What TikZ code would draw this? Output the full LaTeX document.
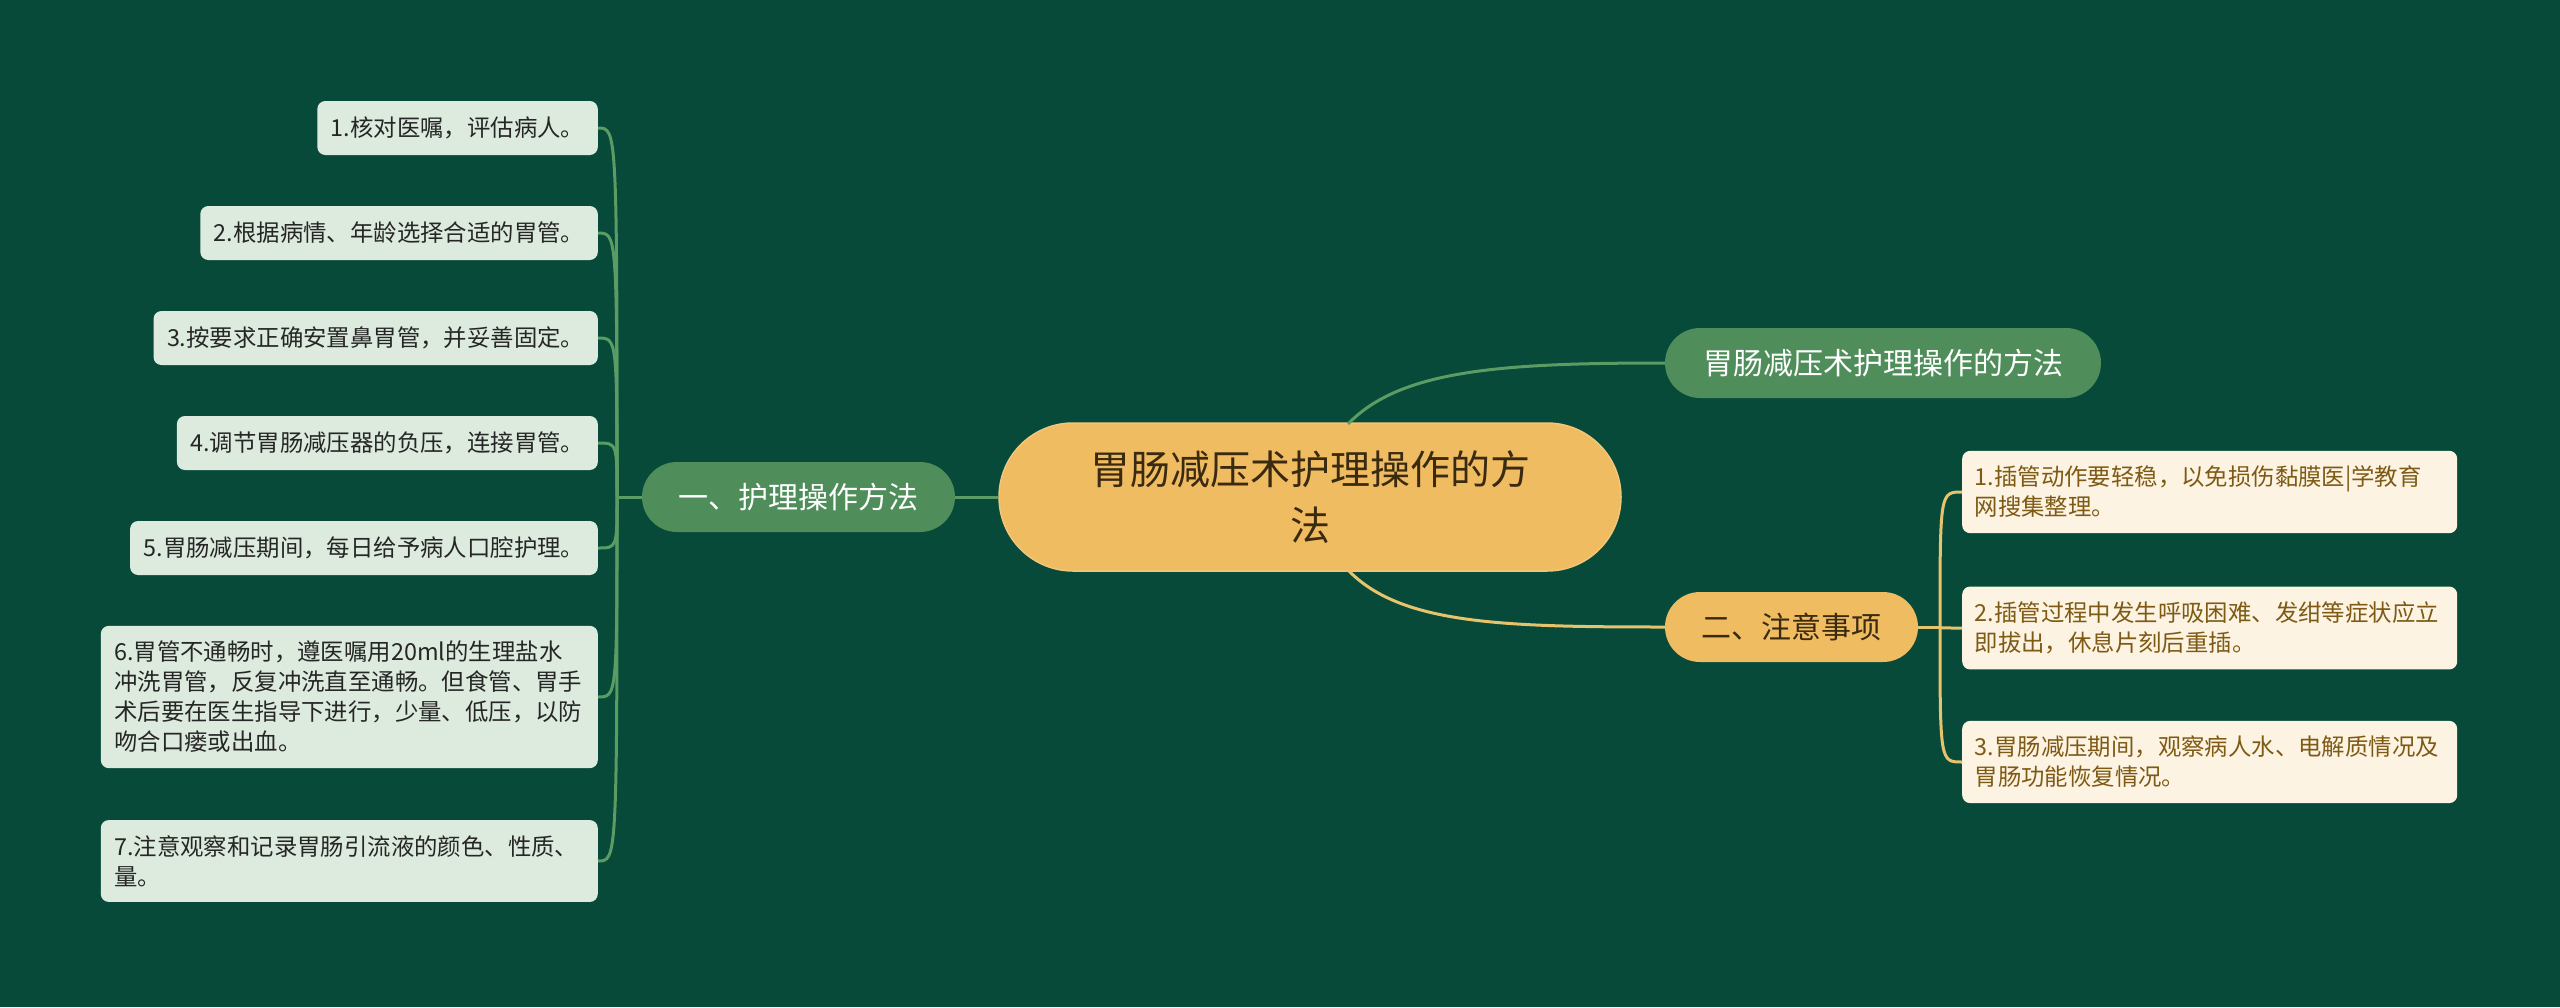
\documentclass[tikz,border=0pt]{standalone}
\usepackage{fontspec}
\setmainfont{Noto Sans CJK SC}
\definecolor{bgc}{HTML}{074A39}
\definecolor{cyel}{HTML}{F0BC62}
\definecolor{bgrn}{HTML}{4F8E5B}
\definecolor{leafg}{HTML}{DDEBDE}
\definecolor{leafc}{HTML}{FDF3E2}
\definecolor{lineg}{HTML}{5B9C65}
\definecolor{lineo}{HTML}{E6C36C}
\definecolor{brtxt}{HTML}{7E5A14}
\definecolor{dtxt}{HTML}{3A2A10}
\begin{document}
\begin{tikzpicture}[x=1pt,y=-1pt,
  leafL/.style={fill=leafg, text=black!85, rounded corners=8pt, font=\fontsize{23.4}{30}\selectfont, inner xsep=13.5pt, inner ysep=15.3pt, minimum height=54pt, anchor=east},
  leafLw/.style={leafL, text width=470pt, align=left},
  leafR/.style={fill=leafc, text=brtxt, rounded corners=8pt, font=\fontsize{23.4}{30}\selectfont, inner xsep=12.5pt, inner ysep=15.3pt, minimum height=54pt, text width=470pt, align=left, anchor=west},
  branch/.style={rounded corners=35pt, minimum height=70pt, inner sep=0pt, font=\fontsize{30}{36}\selectfont},
  gline/.style={draw=lineg, line width=3pt},
  oline/.style={draw=lineo, line width=3pt}]
\fill[bgc] (0,0) rectangle (2560,1007);
\useasboundingbox (0,0) rectangle (2560,1007);

% coordinates
\coordinate (ctr) at (1310,497);
\coordinate (lt) at (617,497);
\coordinate (rtk) at (1940,627);

% central node
\node[fill=cyel, draw=cyel!85!white, line width=1.5pt, rounded corners=74pt, minimum width=622pt, minimum height=148pt, inner sep=0pt, text width=460pt, align=center, text=dtxt, font=\fontsize{40}{56}\selectfont] (c) at (ctr) {胃肠减压术护理操作的方\\法};

% branch nodes
\node[branch, fill=bgrn, text=white, minimum width=313pt] (lb) at (798.5,497) {一、护理操作方法};
\node[branch, fill=bgrn, text=white, minimum width=436pt] (rt) at (1883,363) {胃肠减压术护理操作的方法};
\node[branch, fill=cyel, text=dtxt, minimum width=253pt] (rb) at (1791.5,627) {二、注意事项};

% branch-level connectors (drawn behind the central node)
\begin{scope}[on background layer/.style={}]
\end{scope}

% left leaves
\node[leafL] (l1) at (598,128) {1.核对医嘱，评估病人。};
\node[leafL] (l2) at (598,233) {2.根据病情、年龄选择合适的胃管。};
\node[leafL] (l3) at (598,338) {3.按要求正确安置鼻胃管，并妥善固定。};
\node[leafL] (l4) at (598,443) {4.调节胃肠减压器的负压，连接胃管。};
\node[leafL] (l5) at (598,548) {5.胃肠减压期间，每日给予病人口腔护理。};
\node[leafLw] (l6) at (598,697) {6.胃管不通畅时，遵医嘱用20ml的生理盐水\\冲洗胃管，反复冲洗直至通畅。但食管、胃手\\术后要在医生指导下进行，少量、低压，以防\\吻合口瘘或出血。};
\node[leafLw] (l7) at (598,861) {7.注意观察和记录胃肠引流液的颜色、性质、\\量。};

% right leaves
\node[leafR] (r1) at (1962,492) {1.插管动作要轻稳，以免损伤黏膜医|学教育\\网搜集整理。};
\node[leafR] (r2) at (1962,628) {2.插管过程中发生呼吸困难、发绀等症状应立\\即拔出，休息片刻后重插。};
\node[leafR] (r3) at (1962,762) {3.胃肠减压期间，观察病人水、电解质情况及\\胃肠功能恢复情况。};

% connectors
\draw[gline] (c.west) -- (lb.east);
\draw[gline] (lb.west) -- (lt);
\foreach \n in {l1,l2,l3,l4,l5,l6,l7}{
  \draw[gline] (lt) .. controls (lt |- \n.east) .. (\n.east);
}
\draw[oline] (rb.east) -- (rtk);
\foreach \n in {r1,r2,r3}{
  \draw[oline] (rtk) .. controls (rtk |- \n.west) .. (\n.west);
}
% central to right branches: start on the central node's rim
\draw[gline] (1348,424) .. controls (1400,370) and (1500,363) .. (rt.west);
\draw[oline] (1348,570) .. controls (1400,624) and (1500,627) .. (rb.west);
\end{tikzpicture}
\end{document}
